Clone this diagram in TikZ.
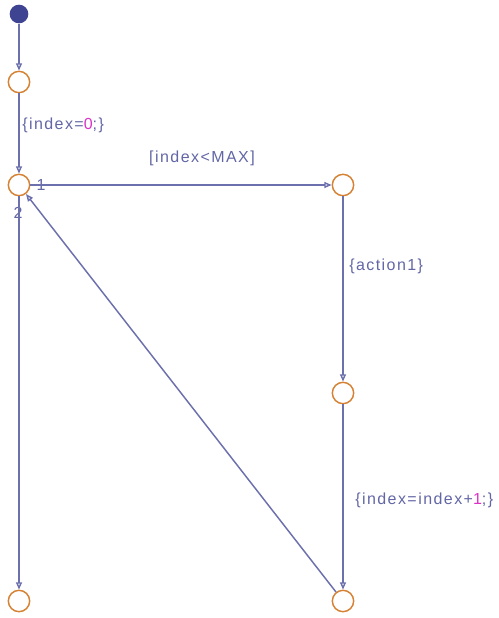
\documentclass[tikz,border=0pt]{standalone}
\usepackage{fontspec}
\setmainfont{Liberation Sans}[LetterSpace=9]
\usepackage{xcolor}
\usepackage{tikz}
\usetikzlibrary{arrows.meta}
\definecolor{wire}{RGB}{108,112,172}
\definecolor{dotfill}{RGB}{62,68,145}
\definecolor{junc}{RGB}{214,130,52}
\definecolor{lbl}{RGB}{98,102,165}
\definecolor{num}{RGB}{220,50,200}

\begin{document}
\begin{tikzpicture}[
  x=0.75pt, y=-0.75pt,
  junction/.style={circle, draw=junc, line width=1.1pt, fill=white, minimum size=16pt, inner sep=0pt},
  start/.style={circle, fill=dotfill, minimum size=14pt, inner sep=0pt},
  arrow/.style={-{Triangle[open, length=5.5pt, width=4.5pt]}, draw=wire, line width=1.1pt},
  cond/.style={font=\fontsize{12}{14}\selectfont, text=lbl, inner sep=0pt},
]
\useasboundingbox (0,0) rectangle (499,618);

% Junctions
\node[start] (init) at (19,14) {};
\node[junction] (j1) at (19,82) {};
\node[junction] (j2) at (19,185) {};
\node[junction] (j3) at (343,185) {};
\node[junction] (j4) at (343,393) {};
\node[junction] (j5) at (19,601) {};
\node[junction] (j6) at (343,601) {};

% Labels
\node[cond, anchor=west] (act0) at (22,125) {\{index=\textcolor{num}{0};\}};
\node[cond] (guard) at (202,158) {[index<MAX]};
\node[cond, anchor=west] (act1) at (349,266) {\{action1\}};
\node[cond, anchor=west] (act2) at (355,500) {\{index=index+\textcolor{num}{1};\}};
\node[cond] (ord1) at (41,185) {1};
\node[cond] (ord2) at (18,213) {2};

% Transitions
\draw[arrow] (init) -- (j1);
\draw[arrow] (j1) -- (j2);
\draw[arrow] (j2) -- (j3);
\draw[arrow] (j3) -- (j4);
\draw[arrow] (j4) -- (j6);
\draw[arrow] (j6) -- (j2);
\draw[arrow] (j2) -- (j5);

\end{tikzpicture}
\end{document}
